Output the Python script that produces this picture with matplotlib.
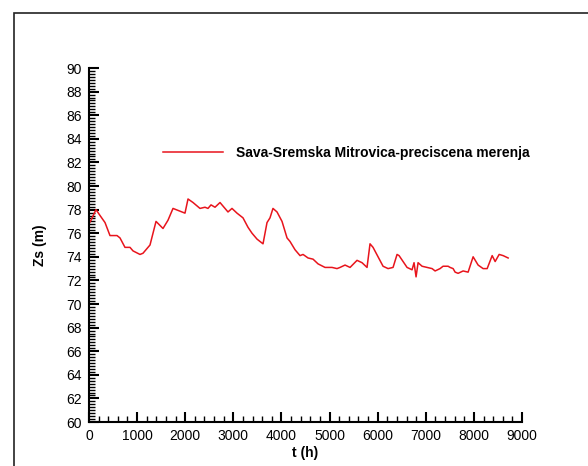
import numpy as np
import matplotlib.pyplot as plt
from matplotlib.ticker import MultipleLocator
from matplotlib.patches import Rectangle

plt.rcParams["font.family"] = ["Liberation Sans", "DejaVu Sans"]

line_color = "#e8141c"

# time (h) and water level Zs (m)
t_h = [0, 42, 145, 229, 333, 436, 582, 644, 748, 852, 915, 1060, 1122, 1268,
       1393, 1538, 1642, 1746, 1995, 2058, 2162, 2307, 2411, 2473, 2536, 2619,
       2723, 2785, 2889, 2972, 3076, 3201, 3305, 3388, 3492, 3554, 3617, 3700,
       3762, 3824, 3908, 4012, 4116, 4178, 4282, 4386, 4449, 4553, 4657, 4761,
       4906, 5051, 5155, 5218, 5322, 5426, 5571, 5675, 5779, 5841, 5904, 6008,
       6112, 6216, 6320, 6403, 6445, 6528, 6611, 6715, 6756, 6798, 6840, 6923,
       7027, 7131, 7194, 7297, 7359, 7464, 7505, 7568, 7610, 7672, 7776, 7880,
       7984, 8088, 8192, 8276, 8380, 8442, 8525, 8608, 8712]
zs_m = [76.8, 77.1, 78.0, 77.5, 76.9, 75.8, 75.8, 75.6, 74.8, 74.8, 74.5,
        74.2, 74.3, 75.0, 77.0, 76.4, 77.1, 78.1, 77.7, 78.9, 78.6, 78.1, 78.2,
        78.1, 78.4, 78.2, 78.6, 78.3, 77.8, 78.1, 77.7, 77.3, 76.5, 76.0, 75.5,
        75.3, 75.1, 76.9, 77.3, 78.1, 77.8, 77.0, 75.6, 75.3, 74.6, 74.1, 74.2,
        73.9, 73.8, 73.4, 73.1, 73.1, 73.0, 73.1, 73.3, 73.1, 73.7, 73.5, 73.1,
        75.1, 74.8, 74.0, 73.2, 73.0, 73.1, 74.2, 74.1, 73.6, 73.1, 72.9, 73.5,
        72.3, 73.5, 73.2, 73.1, 73.0, 72.8, 73.0, 73.2, 73.2, 73.1, 73.0, 72.7,
        72.6, 72.8, 72.7, 74.0, 73.3, 73.0, 73.0, 74.1, 73.6, 74.2, 74.1, 73.9]

W, H = 588, 466
fig = plt.figure(figsize=(W / 100, H / 100), dpi=100)
ax = fig.add_axes([89 / W, 1 - 422 / H, (522 - 89) / W, (422 - 68) / H])

# outer frame (cropped at right and bottom)
fig.patches.append(Rectangle((14 / W, -0.1), 1.2, 1 - 13 / H + 0.1,
                             transform=fig.transFigure, fill=False,
                             edgecolor="#222222", linewidth=1.2))

ax.plot(t_h, zs_m, color=line_color, linewidth=1.1,
        label="Sava-Sremska Mitrovica-preciscena merenja")

ax.set_xlim(0, 9000)
ax.set_ylim(60, 90)
ax.xaxis.set_major_locator(MultipleLocator(1000))
ax.xaxis.set_minor_locator(MultipleLocator(200))
ax.yaxis.set_major_locator(MultipleLocator(2))
ax.yaxis.set_minor_locator(MultipleLocator(0.25))

for side in ["top", "right"]:
    ax.spines[side].set_visible(False)
for side in ["left", "bottom"]:
    ax.spines[side].set_linewidth(1.5)

ax.tick_params(which="major", direction="in", length=7, width=1.5,
               labelsize=10, pad=5)
ax.tick_params(which="minor", direction="in", length=4, width=1)

ax.set_xlabel("t (h)", fontsize=10, fontweight="bold", labelpad=2)
ax.set_ylabel("Zs (m)", fontsize=10, fontweight="bold", labelpad=14)

ax.legend(loc="center left", bbox_to_anchor=((163 - 89) / 433, 0.76),
          frameon=False, borderpad=0, borderaxespad=0,
          handlelength=4.3, handletextpad=0.95,
          prop={"size": 10, "weight": "bold"})

fig.savefig("out.png", dpi=100)
